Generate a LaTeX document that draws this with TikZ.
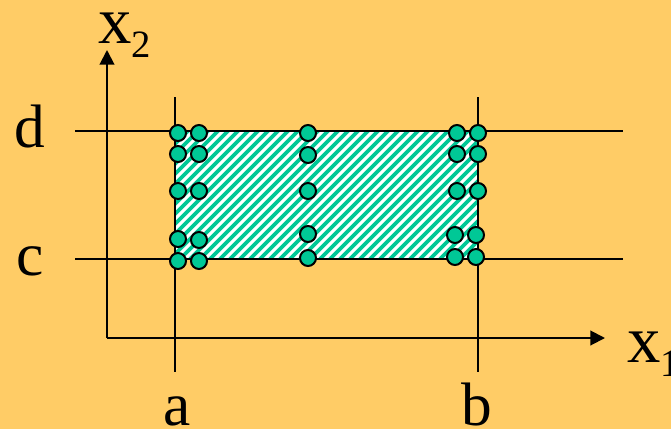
\documentclass[tikz,border=0pt]{standalone}
\usepackage{fontspec}
\setmainfont{Liberation Serif}
\usetikzlibrary{arrows.meta}
\definecolor{bgorange}{HTML}{FFCC66}
\definecolor{dotgreen}{HTML}{00C896}

\begin{document}
\begin{tikzpicture}[
  x=0.75pt, y=-0.75pt,
  >={Triangle[length=11pt, width=11pt]},
  axis/.style={->, line width=1.5pt, draw=black},
  bound/.style={line width=1.5pt, draw=black},
  hatch/.style={line width=2.7pt, draw=dotgreen},
  lbl/.style={inner sep=0pt, font=\fontsize{46}{50}\selectfont},
  axlbl/.style={inner sep=0pt, anchor=base west, font=\fontsize{50}{54}\selectfont},
  pt/.style={circle, draw=black, line width=1.5pt, fill=dotgreen, minimum size=12pt, inner sep=0pt},
]
% ---- Background ----
\fill[bgorange] (0,0) rectangle (671,429);
\useasboundingbox (0,0) rectangle (671,429);

% ---- Hatched domain ----
\fill[white] (175,131) rectangle (478,259);
\begin{scope}
  \clip (175,131) rectangle (478,259);
  \foreach \hx in {40,50,...,480}
    \draw[hatch] (\hx,259) -- ++(135,-135);
\end{scope}

% ---- Axes ----
\coordinate (orig) at (107,338);
\coordinate (x1tip) at (605,338);
\coordinate (x2tip) at (107,50);
\draw[axis] (orig) -- (x1tip);
\draw[axis] (orig) -- (x2tip);
\node[axlbl] (x1lbl) at (627,362) {x\raisebox{-0.22em}{\fontsize{29}{30}\selectfont 1}};
\node[axlbl] (x2lbl) at (98,43) {x\raisebox{-0.22em}{\fontsize{29}{30}\selectfont 2}};

% ---- Bounds a, b, c, d ----
\coordinate (atop) at (175,97);  \coordinate (abot) at (175,372);
\coordinate (btop) at (478,97);  \coordinate (bbot) at (478,372);
\coordinate (dleft) at (75,131); \coordinate (dright) at (623,131);
\coordinate (cleft) at (75,259); \coordinate (cright) at (623,259);
\draw[bound] (atop) -- (abot);
\draw[bound] (btop) -- (bbot);
\draw[bound] (dleft) -- (dright);
\draw[bound] (cleft) -- (cright);
\node[lbl, anchor=base] (alb) at (177,425) {a};
\node[lbl, anchor=base] (blb) at (477,425) {b};
\node[lbl, anchor=base] (dlb) at (30,147) {d};
\node[lbl, anchor=base] (clb) at (30,275) {c};

% ---- Nodes (grid points) ----
\foreach \px/\py [count=\i] in {178/133,199/133,178/154,199/154,178/191,199/191,
    178/239,199/240,178/261,199/261,
    308/133,308/155,308/191,308/234,308/258,
    457/133,478/133,457/154,478/154,457/191,478/191,
    455/235,476/235,455/257,476/257}
  \node[pt] (p\i) at (\px,\py) {};
\end{tikzpicture}
\end{document}
